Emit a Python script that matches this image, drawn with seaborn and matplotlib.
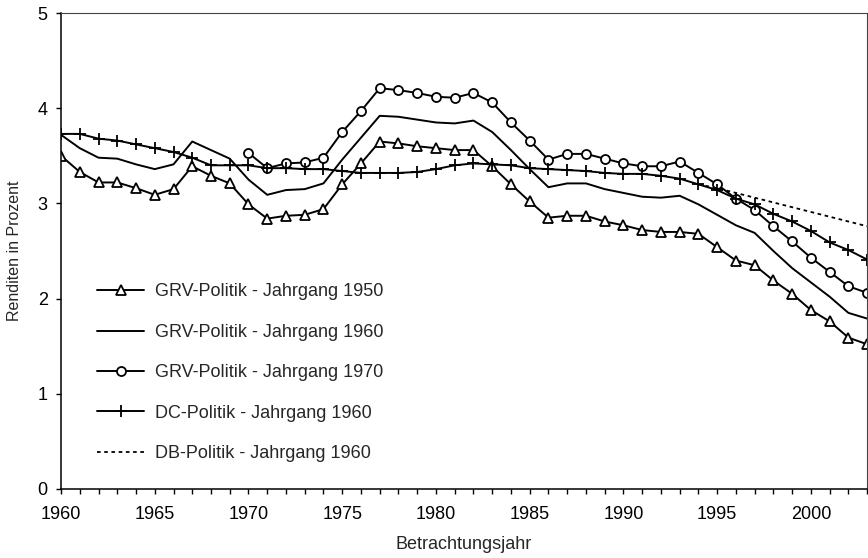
import numpy as np
import pandas as pd
import matplotlib
matplotlib.use("Agg")
import matplotlib.pyplot as plt
import seaborn as sns

# Werte
years = list(range(1960, 2004))

grv_1950 = [3.50, 3.33, 3.22, 3.22, 3.16, 3.09, 3.15, 3.39, 3.29, 3.21,
            2.99, 2.84, 2.87, 2.88, 2.94, 3.20, 3.42, 3.65, 3.63, 3.60,
            3.58, 3.56, 3.56, 3.39, 3.20, 3.02, 2.85, 2.87, 2.87, 2.81,
            2.77, 2.72, 2.70, 2.70, 2.68, 2.54, 2.40, 2.35, 2.19, 2.05,
            1.88, 1.76, 1.59, 1.52]

grv_1960 = [3.72, 3.58, 3.48, 3.47, 3.41, 3.36, 3.41, 3.65, 3.56, 3.47,
            3.25, 3.09, 3.14, 3.15, 3.21, 3.46, 3.69, 3.92, 3.91, 3.88,
            3.85, 3.84, 3.87, 3.75, 3.56, 3.36, 3.17, 3.21, 3.21, 3.15,
            3.11, 3.07, 3.06, 3.08, 2.99, 2.88, 2.77, 2.69, 2.50, 2.32,
            2.17, 2.02, 1.85, 1.79]

years_1970 = list(range(1970, 2004))
grv_1970 = [3.53, 3.37, 3.42, 3.43, 3.48, 3.75, 3.97, 4.21, 4.19, 4.16,
            4.12, 4.11, 4.16, 4.06, 3.85, 3.66, 3.46, 3.52, 3.52, 3.47,
            3.42, 3.39, 3.39, 3.44, 3.32, 3.20, 3.05, 2.93, 2.76, 2.60,
            2.43, 2.28, 2.13, 2.06]

dc_1960 = [3.73, 3.73, 3.68, 3.66, 3.62, 3.58, 3.54, 3.48, 3.40, 3.40,
           3.40, 3.37, 3.37, 3.36, 3.36, 3.34, 3.32, 3.32, 3.32, 3.33,
           3.36, 3.40, 3.42, 3.41, 3.40, 3.37, 3.36, 3.35, 3.34, 3.32,
           3.31, 3.31, 3.29, 3.26, 3.20, 3.14, 3.05, 2.99, 2.89, 2.81,
           2.71, 2.59, 2.51, 2.41]

# DB-Politik liegt bis 1994 auf der DC-Linie
years_db = list(range(1994, 2004))
db_1960 = [3.20, 3.16, 3.11, 3.06, 3.01, 2.96, 2.91, 2.86, 2.81, 2.76]

labels = ["GRV-Politik - Jahrgang 1950", "GRV-Politik - Jahrgang 1960",
          "GRV-Politik - Jahrgang 1970", "DC-Politik - Jahrgang 1960",
          "DB-Politik - Jahrgang 1960"]

sns.set_style("ticks")
plt.rcParams["font.family"] = ["Liberation Sans", "DejaVu Sans"]
plt.rcParams["xtick.major.size"] = 3.6
plt.rcParams["ytick.major.size"] = 3.6

fig = plt.figure(figsize=(8.68, 5.58), dpi=100)
ax = fig.add_axes([0.0703, 0.1237, 0.9287, 0.853])

lw = 1.4
sns.lineplot(x=years, y=grv_1950, ax=ax, color="k", lw=lw, marker="^",
             markersize=6.5, markerfacecolor="white", markeredgecolor="k",
             markeredgewidth=1.3, label=labels[0])
sns.lineplot(x=years, y=grv_1960, ax=ax, color="k", lw=lw, label=labels[1])
sns.lineplot(x=years_1970, y=grv_1970, ax=ax, color="k", lw=lw, marker="o",
             markersize=6.5, markerfacecolor="white", markeredgecolor="k",
             markeredgewidth=1.3, label=labels[2])
sns.lineplot(x=years, y=dc_1960, ax=ax, color="k", lw=lw, marker="+",
             markersize=8, markeredgecolor="k", markeredgewidth=1.3,
             label=labels[3])
sns.lineplot(x=years_db, y=db_1960, ax=ax, color="k", lw=1.3,
             linestyle=(0, (2, 2)), label=labels[4])

ax.set_xlim(1960, 2003)
ax.set_ylim(0, 5)
ax.set_xticks(years)
ax.set_xticklabels([str(y) if y % 5 == 0 else "" for y in years])
ax.set_yticks(range(0, 6))
ax.tick_params(axis="both", labelsize=13, colors="k", width=1)
ax.tick_params(axis="x", pad=9)
ax.tick_params(axis="y", pad=6)

for side in ["top", "right"]:
    ax.spines[side].set_linewidth(0.8)
    ax.spines[side].set_color("#444444")
for side in ["left", "bottom"]:
    ax.spines[side].set_linewidth(1.1)
    ax.spines[side].set_color("k")

ax.set_xlabel("Betrachtungsjahr", fontsize=13, labelpad=9)
ax.set_ylabel("Renditen in Prozent", fontsize=11.5, labelpad=11)

ax.legend(loc="upper left", bbox_to_anchor=(0.045, 0.432), frameon=False,
          fontsize=13, handlelength=2.6, handletextpad=0.6, labelspacing=1.3,
          borderpad=0, borderaxespad=0, numpoints=1)

fig.savefig("out.png", dpi=100)
